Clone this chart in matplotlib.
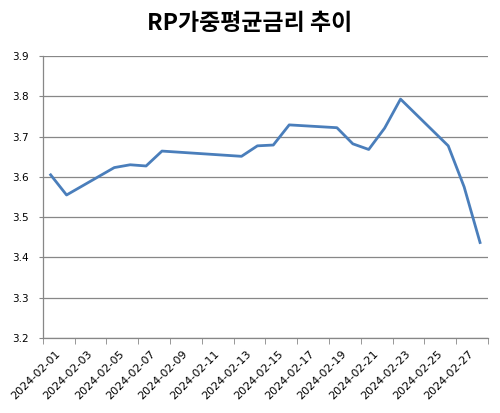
import numpy as np
import matplotlib
matplotlib.use("Agg")
import matplotlib.pyplot as plt
import pandas as pd

# business days of Feb 2024 (Seollal 9-12 skipped)
dates = ["2024-02-01", "2024-02-02", "2024-02-05", "2024-02-06", "2024-02-07",
         "2024-02-08", "2024-02-13", "2024-02-14", "2024-02-15", "2024-02-16",
         "2024-02-19", "2024-02-20", "2024-02-21", "2024-02-22", "2024-02-23",
         "2024-02-26", "2024-02-27", "2024-02-28"]
rates = [3.605, 3.555, 3.623, 3.630, 3.627,
         3.664, 3.651, 3.677, 3.679, 3.729,
         3.722, 3.682, 3.668, 3.721, 3.793,
         3.677, 3.575, 3.437]

yticks = [3.2, 3.3, 3.4, 3.5, 3.6, 3.7, 3.8, 3.9]
xlabels = ["2024-02-01", "2024-02-03", "2024-02-05", "2024-02-07", "2024-02-09",
           "2024-02-11", "2024-02-13", "2024-02-15", "2024-02-17", "2024-02-19",
           "2024-02-21", "2024-02-23", "2024-02-25", "2024-02-27"]
title = "RP가중평균금리 추이"

LINE = "#4A7EBB"
GRID = "#878787"

start = pd.Timestamp("2024-02-01")
x = np.array((pd.to_datetime(dates) - start).days) + 1  # day number, category centre
xl = np.array((pd.to_datetime(xlabels) - start).days) + 1

fig = plt.figure(figsize=(5.0, 4.13), dpi=100)
ax = fig.add_axes([42.7/500, 1-338/413, (488-42.7)/500, (338-56)/413])

ax.plot(x, rates, color=LINE, lw=2.0, solid_joinstyle="round")

ax.set_ylim(3.2, 3.9)
ax.set_yticks(yticks)
ax.set_yticklabels(["%.1f" % v for v in yticks], fontsize=7.5)
ax.set_xlim(0.5, 28.5)

# tick marks on day boundaries, labels shifted one day right (Excel style)
ax.set_xticks(np.arange(0.5, 28.6, 2), minor=True)
ax.set_xticks(xl + 0.5)
ax.set_xticklabels(xlabels, fontsize=8, rotation=45, ha="right", va="center",
                   rotation_mode="anchor")

ax.grid(axis="y", color=GRID, lw=0.9)
ax.set_axisbelow(True)
for s in ["top", "right"]:
    ax.spines[s].set_visible(False)
for s in ["left", "bottom"]:
    ax.spines[s].set_color(GRID)
    ax.spines[s].set_linewidth(0.9)
ax.tick_params(axis="y", length=3, color=GRID, pad=7)
ax.tick_params(axis="x", which="major", length=0, pad=10)
ax.tick_params(axis="x", which="minor", length=4, color=GRID)

fig.text(0.5, 1-23/413, title, ha="center", va="center", fontsize=16.5,
         fontweight="bold", family=["Noto Sans CJK KR", "DejaVu Sans"])

fig.savefig("out.png", dpi=100)
